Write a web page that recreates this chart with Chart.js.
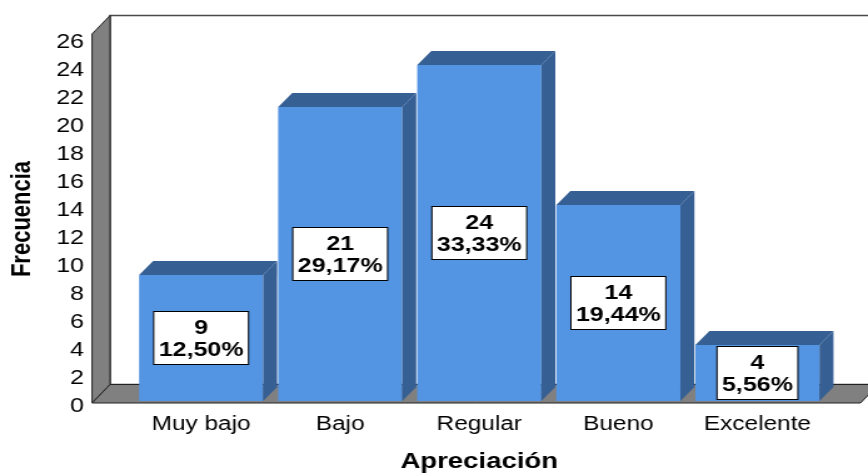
<!DOCTYPE html>
<html lang="es">
<head>
<meta charset="UTF-8">
<title>Apreciación - Frecuencia</title>
<script src="https://cdn.jsdelivr.net/npm/chart.js"></script>
<style>
    html, body { margin: 0; padding: 0; background: #fff; overflow: hidden; }
    /* the chart is drawn narrow and stretched sideways, like the exported figure */
    #wrap { width: 694px; height: 474px; transform: scaleX(1.2507); transform-origin: 0 0; }
</style>
</head>
<body>
<div id="wrap"><canvas id="chart" width="694" height="474"></canvas></div>
<script>
    const categorias = ['Muy bajo', 'Bajo', 'Regular', 'Bueno', 'Excelente'];
    const frecuencias = [9, 21, 24, 14, 4];
    const yMin = 0, yMax = 26, yPaso = 2;

    const azulFrente = '#5394E3';
    const azulLado = '#365F94';
    const gris = '#808080';
    const fuente = "'Liberation Sans', Arial, sans-serif";

    const total = frecuencias.reduce((a, b) => a + b, 0);
    const porcentaje = v => (v / total * 100).toFixed(2).replace('.', ',') + '%';

    // walls and floor of the 3D box, behind the bars
    const marco3D = {
        id: 'marco3D',
        beforeDatasetsDraw(chart) {
            const { ctx, chartArea: a } = chart;
            const piso = chart.scales.y.getPixelForValue(0) + 2;
            const techo = a.top - 3;
            const x0 = a.left - 31.6, x1 = a.right + 26.8;
            const dx = 14.4, dy = 18.5;
            ctx.save();
            ctx.lineJoin = 'miter';
            // back wall
            ctx.fillStyle = '#fff';
            ctx.strokeStyle = '#4a4a4a';
            ctx.lineWidth = 1.5;
            ctx.beginPath();
            ctx.rect(x0 + dx, techo - dy, x1 - x0 + 40, piso - techo);
            ctx.fill();
            ctx.stroke();
            ctx.lineWidth = 1;
            ctx.strokeStyle = '#222';
            ctx.fillStyle = gris;
            // left wall
            ctx.beginPath();
            ctx.moveTo(x0, techo);
            ctx.lineTo(x0 + dx, techo - dy);
            ctx.lineTo(x0 + dx, piso - dy);
            ctx.lineTo(x0, piso);
            ctx.closePath();
            ctx.fill();
            ctx.stroke();
            // floor
            ctx.beginPath();
            ctx.moveTo(x0, piso);
            ctx.lineTo(x0 + dx, piso - dy);
            ctx.lineTo(x1 + dx, piso - dy);
            ctx.lineTo(x1, piso);
            ctx.closePath();
            ctx.fill();
            ctx.stroke();
            ctx.restore();
        }
    };

    // top and side faces of each bar, then the value boxes
    const barras3D = {
        id: 'barras3D',
        afterDatasetsDraw(chart) {
            const { ctx } = chart;
            const meta = chart.getDatasetMeta(0);
            const dx = 11.2, dy = 14;
            ctx.save();
            meta.data.forEach((bar, i) => {
                const { x, y, base, width } = bar.getProps(['x', 'y', 'base', 'width'], true);
                const l = x - width / 2, r = x + width / 2;
                ctx.fillStyle = azulLado;
                ctx.beginPath();
                ctx.moveTo(l, y);
                ctx.lineTo(l + dx, y - dy);
                ctx.lineTo(r + dx, y - dy);
                ctx.lineTo(r, y);
                ctx.closePath();
                ctx.fill();
                ctx.beginPath();
                ctx.moveTo(r, y);
                ctx.lineTo(r + dx, y - dy);
                ctx.lineTo(r + dx, base - dy);
                ctx.lineTo(r, base);
                ctx.closePath();
                ctx.fill();

                const v = frecuencias[i];
                const lineas = [String(v), porcentaje(v)];
                ctx.font = 'bold 20px ' + fuente;
                const ancho = Math.max(...lineas.map(t => ctx.measureText(t).width)) + 8;
                const alto = 53;
                const cy = (y + base) / 2;
                ctx.fillStyle = '#fff';
                ctx.strokeStyle = '#000';
                ctx.lineWidth = 1;
                ctx.fillRect(x - ancho / 2, cy - alto / 2, ancho, alto);
                ctx.strokeRect(x - ancho / 2, cy - alto / 2, ancho, alto);
                ctx.fillStyle = '#000';
                ctx.textAlign = 'center';
                ctx.textBaseline = 'middle';
                ctx.fillText(lineas[0], x, cy - 10);
                ctx.fillText(lineas[1], x, cy + 12);
            });
            ctx.restore();
        }
    };

    new Chart(document.getElementById('chart'), {
        type: 'bar',
        data: {
            labels: categorias,
            datasets: [{
                data: frecuencias,
                backgroundColor: azulFrente,
                borderWidth: 0,
                categoryPercentage: 0.892,
                barPercentage: 1
            }]
        },
        options: {
            responsive: false,
            animation: false,
            layout: { padding: { top: 37, right: 32.8, left: 0, bottom: 0 } },
            plugins: { legend: { display: false }, tooltip: { enabled: false } },
            scales: {
                x: {
                    grid: { display: false, drawTicks: false },
                    border: { display: false },
                    ticks: { color: '#000', font: { family: fuente, size: 19.5 }, padding: 12, maxRotation: 0 },
                    title: {
                        display: true, text: 'Apreciación', color: '#000',
                        font: { family: fuente, size: 22, weight: 'bold', lineHeight: 1 },
                        padding: { top: 0, bottom: 1 }
                    },
                    afterFit(s) { s.height = 73; }
                },
                y: {
                    min: yMin, max: yMax,
                    grid: { display: false, drawTicks: false },
                    border: { display: false },
                    ticks: { stepSize: yPaso, color: '#000', font: { family: fuente, size: 20 }, padding: 38, labelOffset: 5 },
                    title: {
                        display: true, text: 'Frecuencia', color: '#000',
                        font: { family: fuente, size: 22, weight: 'bold', lineHeight: 1 },
                        padding: { top: 6.6, bottom: 0 }
                    },
                    afterFit(s) {
                        // fixed axis width; the wide tick padding must not push the plot down
                        s.width = 105.2;
                        s.paddingTop = 0;
                        s.paddingBottom = 0;
                    }
                }
            }
        },
        plugins: [marco3D, barras3D]
    });
</script>
</body>
</html>
